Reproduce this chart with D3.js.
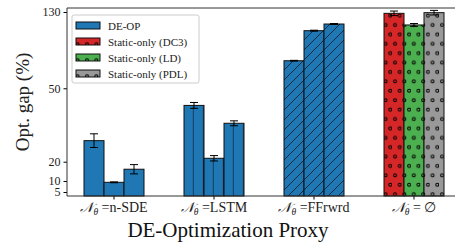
<!DOCTYPE html>
<html>
<head>
<meta charset="utf-8">
<script src="https://cdn.jsdelivr.net/npm/d3@7"></script>
<style>
  body { margin: 0; background: #fff; }
</style>
</head>
<body>
<svg width="455" height="250"></svg>
<script>
// data
const proxies = ['n-SDE', 'LSTM', 'FFrwrd', '∅'];
const nSdeGap = [28.6, 9.4, 16.1];
const nSdeErr = [2.8, 0.2, 2.4];
const lstmGap = [43.0, 21.4, 35.7];
const lstmErr = [1.2, 1.1, 1.0];
const ffGap = [78.9, 110.4, 117.4];
const ffErr = [0.4, 0.5, 0.5];
const staticNames = ['Static-only (DC3)', 'Static-only (LD)', 'Static-only (PDL)'];
const staticGap = [128.6, 116.4, 129.3];
const staticErr = [2.4, 1.5, 2.4];
const yTicks = [5, 10, 20, 50, 130];
const yLimits = [3.2, 134.2];

const serif = '"Liberation Serif", "DejaVu Serif", serif';

const svg = d3.select('svg')
  .attr('font-family', serif);
const width = +svg.attr('width');
const height = +svg.attr('height');

const plotLeft = 67, plotTop = 8, plotBottom = 196;
const plotH = plotBottom - plotTop;

// the axis is stretched unevenly between ticks, so use a polylinear scale
const tickFrac = [0, 0.0213, 0.0798, 0.1824, 0.573, 0.9787, 1];
const y = d3.scaleLinear()
  .domain([yLimits[0], ...yTicks, yLimits[1]])
  .range(tickFrac.map(f => plotBottom - f * plotH));

const x = d3.scaleBand()
  .domain(proxies)
  .range([plotLeft, 461])
  .paddingInner(0.4)
  .paddingOuter(0.17);

const xi = d3.scaleBand()
  .domain([0, 1, 2])
  .range([0, x.bandwidth()]);

const defs = svg.append('defs');

const vert = defs.append('pattern')
  .attr('id', 'vert')
  .attr('patternUnits', 'userSpaceOnUse')
  .attr('width', 10).attr('height', 10);
vert.append('rect').attr('width', 10).attr('height', 10).attr('fill', '#1f77b4');
vert.append('line')
  .attr('x1', 9.3).attr('x2', 9.3).attr('y1', 0).attr('y2', 10)
  .attr('stroke', '#113f60').attr('stroke-width', 1);

const diag = defs.append('pattern')
  .attr('id', 'diag')
  .attr('patternUnits', 'userSpaceOnUse')
  .attr('width', 10).attr('height', 10);
diag.append('rect').attr('width', 10).attr('height', 10).attr('fill', '#1f77b4');
diag.append('path')
  .attr('d', 'M0,10L10,0M-2,2L2,-2M8,12L12,8')
  .attr('stroke', '#0a2236').attr('stroke-width', 0.9);

// staggered rings, like matplotlib's 'o' hatch
const staticColors = ['#d62728', '#4caf50', '#999999'];
staticColors.forEach((c, i) => {
  const p = defs.append('pattern')
    .attr('id', 'dots' + i)
    .attr('patternUnits', 'userSpaceOnUse')
    .attr('width', 9.4).attr('height', 18.8)
    .attr('x', 384);
  p.append('rect').attr('width', 9.4).attr('height', 18.8).attr('fill', c);
  [[3, 6.2], [7.7, 15.6]].forEach(([cx, cy]) => {
    p.append('circle')
      .attr('cx', cx).attr('cy', cy).attr('r', 1.5)
      .attr('fill', 'none').attr('stroke', '#000').attr('stroke-width', 1);
  });
});

// bars
const groups = [
  { name: proxies[0], vals: nSdeGap, errs: nSdeErr, fill: () => '#1f77b4' },
  { name: proxies[1], vals: lstmGap, errs: lstmErr, fill: () => 'url(#vert)' },
  { name: proxies[2], vals: ffGap, errs: ffErr, fill: () => 'url(#diag)' },
  { name: proxies[3], vals: staticGap, errs: staticErr, fill: i => `url(#dots${i})` }
];

groups.forEach(gr => {
  const g = svg.append('g')
    .attr('transform', `translate(${x(gr.name)},0)`);
  g.selectAll('rect')
    .data(gr.vals)
    .join('rect')
    .attr('x', (d, i) => xi(i))
    .attr('y', d => y(d))
    .attr('width', xi.bandwidth())
    .attr('height', d => plotBottom - y(d))
    .attr('fill', (d, i) => gr.fill(i))
    .attr('stroke', '#111')
    .attr('stroke-width', 1);

  const eb = g.selectAll('.err')
    .data(gr.vals)
    .join('g')
    .attr('class', 'err')
    .attr('stroke', '#000')
    .attr('stroke-width', 1);
  eb.append('line')
    .attr('x1', (d, i) => xi(i) + xi.bandwidth() / 2)
    .attr('x2', (d, i) => xi(i) + xi.bandwidth() / 2)
    .attr('y1', (d, i) => y(d - gr.errs[i]))
    .attr('y2', (d, i) => y(d + gr.errs[i]));
  [-1, 1].forEach(s => {
    eb.append('line')
      .attr('x1', (d, i) => xi(i) + xi.bandwidth() / 2 - 4)
      .attr('x2', (d, i) => xi(i) + xi.bandwidth() / 2 + 4)
      .attr('y1', (d, i) => y(d + s * gr.errs[i]))
      .attr('y2', (d, i) => y(d + s * gr.errs[i]));
  });
});

// axes
const yAxis = svg.append('g')
  .attr('transform', `translate(${plotLeft},0)`)
  .call(d3.axisLeft(y).tickValues(yTicks).tickSize(3.5).tickPadding(3));
yAxis.attr('font-family', serif).attr('font-size', 12);
yAxis.select('.domain').remove();
yAxis.selectAll('text').attr('fill', '#222');

const xAxis = svg.append('g')
  .attr('transform', `translate(0,${plotBottom})`)
  .call(d3.axisBottom(x).tickSize(3.5).tickFormat(''));
xAxis.select('.domain').remove();

svg.append('line')
  .attr('x1', plotLeft).attr('x2', width).attr('y1', plotTop).attr('y2', plotTop)
  .attr('stroke', '#333').attr('stroke-width', 1);
svg.append('line')
  .attr('x1', plotLeft).attr('x2', width).attr('y1', plotBottom).attr('y2', plotBottom)
  .attr('stroke', '#333').attr('stroke-width', 1);
svg.append('line')
  .attr('x1', plotLeft).attr('x2', plotLeft).attr('y1', plotTop).attr('y2', plotBottom)
  .attr('stroke', '#333').attr('stroke-width', 1);

// x tick labels
proxies.forEach(p => {
  const t = svg.append('text')
    .attr('x', x(p) + x.bandwidth() / 2)
    .attr('y', 212)
    .attr('text-anchor', 'middle')
    .attr('font-size', 14)
    .attr('fill', '#222');
  t.append('tspan').attr('font-style', 'italic').text('𝒩');
  t.append('tspan').attr('font-size', 9.5).attr('dy', 3).attr('font-style', 'italic').text('θ');
  t.append('tspan').attr('dy', -3).text(p === '∅' ? ' = ∅' : ' =' + p);
});

svg.append('text')
  .attr('x', 228)
  .attr('y', 237)
  .attr('text-anchor', 'middle')
  .attr('font-size', 21)
  .attr('fill', '#111')
  .text('DE-Optimization Proxy');

svg.append('text')
  .attr('transform', `translate(29,${(plotTop + plotBottom) / 2}) rotate(-90)`)
  .attr('text-anchor', 'middle')
  .attr('font-size', 19)
  .attr('fill', '#222')
  .text('Opt. gap (%)');

// legend
const legend = svg.append('g').attr('transform', 'translate(72,15)');
legend.append('rect')
  .attr('width', 127).attr('height', 68)
  .attr('rx', 2)
  .attr('fill', '#fff').attr('fill-opacity', 0.85)
  .attr('stroke', '#ccc');
const items = [{ label: 'DE-OP', fill: '#1f77b4' }]
  .concat(staticNames.map((n, i) => ({ label: n, fill: `url(#dots${i})` })));
const li = legend.selectAll('.item')
  .data(items)
  .join('g')
  .attr('class', 'item')
  .attr('transform', (d, i) => `translate(4,${7 + i * 16})`);
li.append('rect')
  .attr('width', 24).attr('height', 7)
  .attr('fill', d => d.fill)
  .attr('stroke', '#111');
li.append('text')
  .attr('x', 32).attr('y', 7.5)
  .attr('font-size', 11)
  .attr('fill', '#222')
  .text(d => d.label);
</script>
</body>
</html>
